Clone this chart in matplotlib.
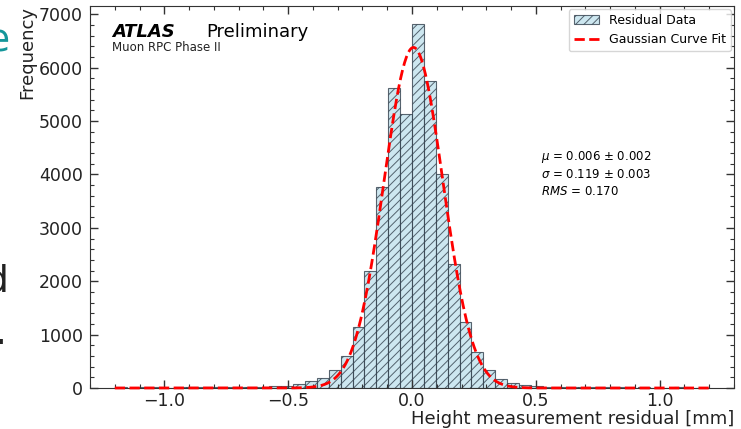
import numpy as np
import matplotlib
matplotlib.use("Agg")
import matplotlib.pyplot as plt
from matplotlib.ticker import MultipleLocator

# ---------------- data ----------------
hist_range = (-1.2, 1.2)
n_bins = 50
counts = [10, 8, 12, 10, 9, 11, 12, 10, 14, 13, 15, 18, 22,
          30, 45, 80, 130, 190, 330, 605, 1150, 2185, 3760, 5615,
          5135, 6815, 5750, 4005, 2320, 1240, 675, 340, 170, 100,
          60, 35, 22,
          18, 15, 14, 12, 10, 11, 9, 10, 8, 9, 10, 8, 9]

fit_mu = 0.006
fit_sigma = 0.119
fit_amplitude = 6380

stats_lines = [r"$\mu$ = 0.006 $\pm$ 0.002",
               r"$\sigma$ = 0.119 $\pm$ 0.003",
               r"$RMS$ = 0.170"]

# ---------------- figure ----------------
plt.rcParams["hatch.linewidth"] = 0.7
W, H = 741, 429
fig = plt.figure(figsize=(W / 100, H / 100), dpi=100)
ax = fig.add_axes([90 / W, 41 / H, 644 / W, 382 / H])

edges = np.linspace(hist_range[0], hist_range[1], n_bins + 1)
centers = 0.5 * (edges[:-1] + edges[1:])

ax.hist(centers, bins=edges, weights=counts,
        facecolor=(0.678, 0.847, 0.902, 0.6),
        edgecolor=(0.2, 0.25, 0.3, 0.8),
        hatch="////", linewidth=0.8, label="Residual Data")

x_fit = np.linspace(hist_range[0], hist_range[1], 600)
y_fit = fit_amplitude * np.exp(-0.5 * ((x_fit - fit_mu) / fit_sigma) ** 2)
ax.plot(x_fit, y_fit, color="red", linestyle="--", linewidth=2.0,
        label="Gaussian Curve Fit", clip_on=False, zorder=3)

ax.set_xlim(-1.3, 1.3)

ax.xaxis.set_major_locator(MultipleLocator(0.5))
ax.xaxis.set_minor_locator(MultipleLocator(0.1))
ax.yaxis.set_major_locator(MultipleLocator(1000))
ax.yaxis.set_minor_locator(MultipleLocator(200))
ax.tick_params(which="both", direction="in", top=True, right=True,
               colors="#333333", labelcolor="#222222")
ax.tick_params(which="major", length=6, width=1, labelsize=12.5)
ax.tick_params(axis="y", which="major", pad=5)
ax.tick_params(axis="x", which="major", pad=3)
ax.tick_params(which="minor", length=3, width=0.8)
for s in ax.spines.values():
    s.set_color("#333333")
    s.set_zorder(2.5)

ax.set_xlabel("Height measurement residual [mm]", fontsize=13,
              loc="right", labelpad=0, color="#222222")
ax.set_ylabel("Frequency", fontsize=13, loc="top", color="#222222",
              labelpad=2)

ax.text(0.034, 0.919, "ATLAS", transform=ax.transAxes, fontsize=13,
        fontweight="bold", fontstyle="italic", va="baseline")
ax.text(0.180, 0.919, "Preliminary", transform=ax.transAxes, fontsize=13,
        va="baseline")
ax.text(0.034, 0.882, "Muon RPC Phase II", transform=ax.transAxes,
        fontsize=8.5, va="baseline", color="#222222")

ax.text(0.700, 0.626, "\n".join(stats_lines), transform=ax.transAxes,
        fontsize=8.5, va="top", ha="left", linespacing=1.35)

ax.legend(loc="upper right", fontsize=9, borderaxespad=0.25)

# cut-off slide text at the left edge
fig.text(-2 / W, (H - 52) / H, "e", color="#15969a", fontsize=27,
         ha="center", va="baseline")
fig.text(-3 / W, (H - 291) / H, "d", color="#222222", fontsize=27,
         ha="center", va="baseline")
fig.text(1 / W, (H - 344) / H, ".", color="#222222", fontsize=27,
         ha="center", va="baseline")

fig.savefig("out.png", dpi=100)
